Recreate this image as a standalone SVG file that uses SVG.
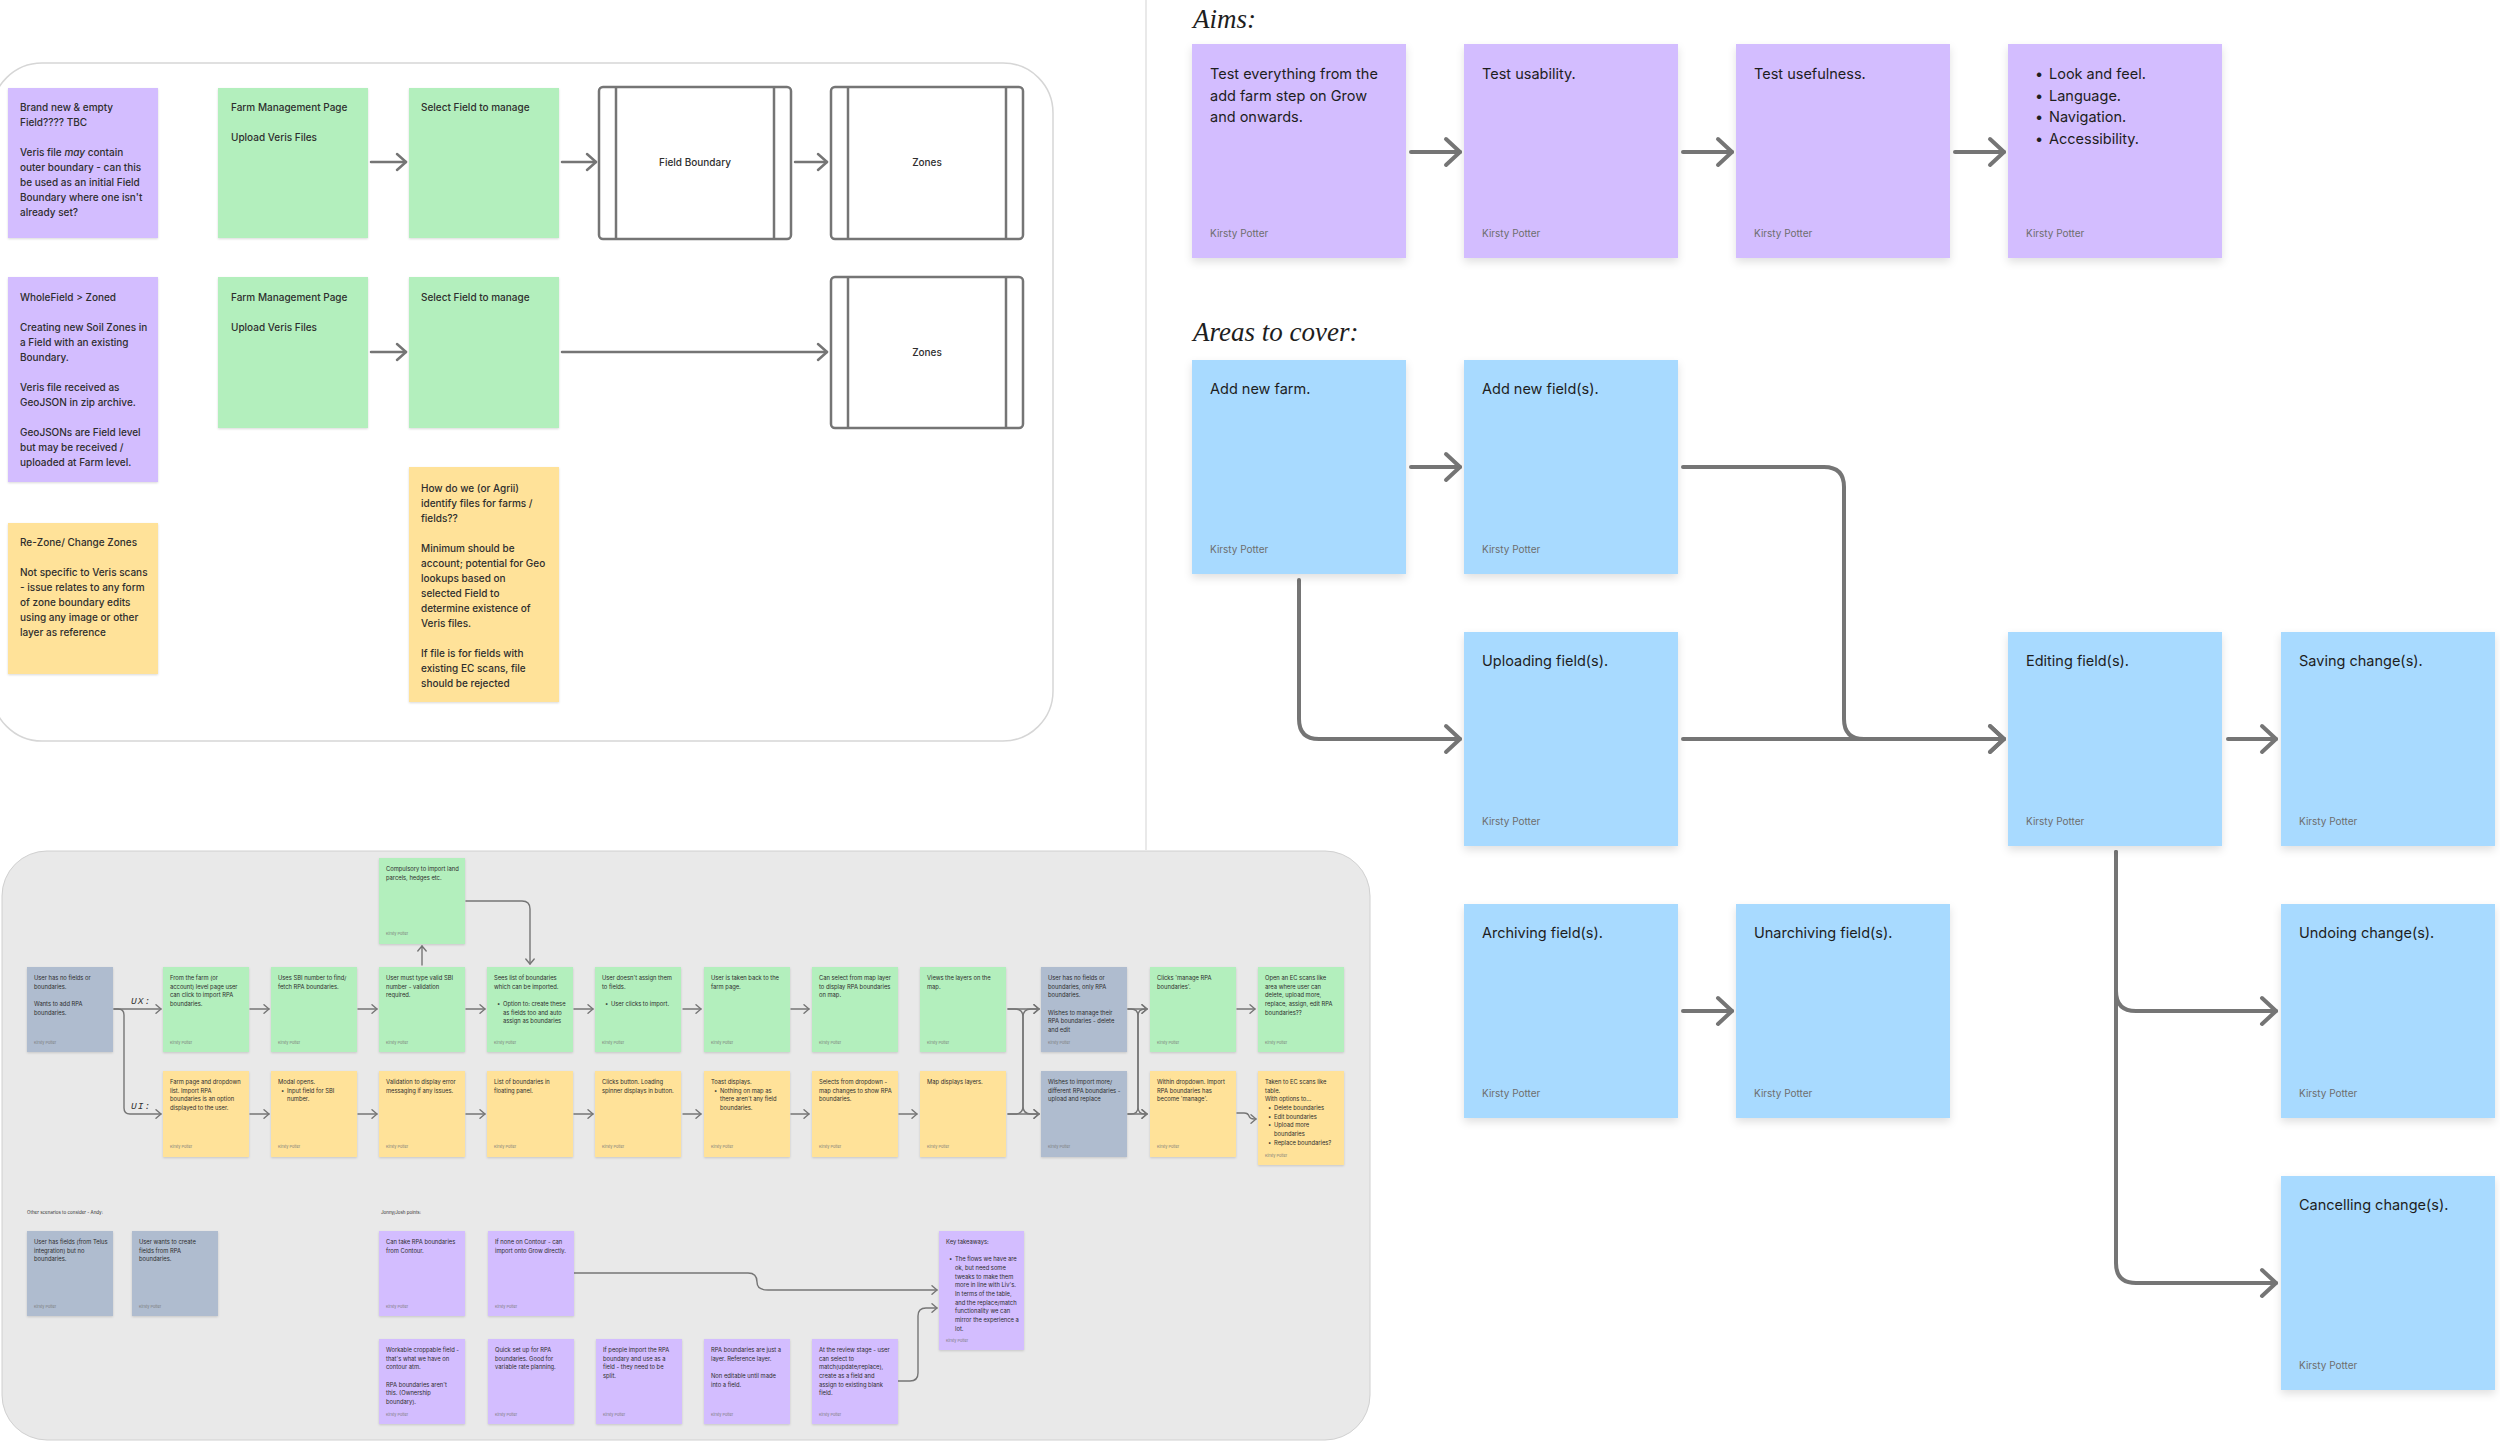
<svg xmlns="http://www.w3.org/2000/svg" width="2500" height="1442" viewBox="0 0 2500 1442">
<defs>
<style>
text{font-family:Inter,"Noto Sans","Liberation Sans",sans-serif}
.p{fill:#D3BDFF}.g{fill:#B3EFBD}.y{fill:#FFE299}.b{fill:#A8DAFF}.s{fill:#AFBCCF}
.tl{font-size:10px;font-weight:500;fill:#2e2e2e}
.bt{font-size:14.5px;fill:#1e1e1e}
.ba{font-size:10px;fill:#6e6e6e}
.st{font-size:5.8px;fill:#2e2e2e}
.sa{font-size:3.8px;fill:#7a7a7a}
.lab{font-size:4.5px;fill:#2e2e2e}
.hand{font-family:"Liberation Serif",serif;font-style:italic;font-size:27px;fill:#1e1e1e}
.mono{font-family:"Liberation Mono","DejaVu Sans Mono",monospace;font-style:italic;font-size:9.5px;fill:#333;letter-spacing:1px}
.cn{fill:none;stroke:#757575;stroke-linecap:round;stroke-linejoin:round}
.cL{stroke-width:4;marker-end:url(#aL)}
.cM{stroke-width:2.5;marker-end:url(#aM)}
.cS{stroke-width:1.4;marker-end:url(#aS)}
.frame{fill:#fff;stroke:#757575;stroke-width:2.5}
.fl{stroke:#757575;stroke-width:2.5}
.bs{filter:url(#shB)}.ss{filter:url(#shS)}
</style>
<filter id="shB" x="-10%" y="-10%" width="120%" height="130%"><feDropShadow dx="0" dy="4" stdDeviation="4" flood-color="#000" flood-opacity="0.12"/></filter>
<filter id="shS" x="-10%" y="-10%" width="120%" height="130%"><feDropShadow dx="0" dy="1" stdDeviation="1" flood-color="#000" flood-opacity="0.15"/></filter>
<marker id="aL" viewBox="0 0 20 30" refX="16" refY="15" markerWidth="20" markerHeight="30" markerUnits="userSpaceOnUse" orient="auto" overflow="visible"><path d="M2,2 L16,15 L2,28" fill="none" stroke="#757575" stroke-width="4" stroke-linecap="round" stroke-linejoin="round"/></marker>
<marker id="aM" viewBox="0 0 14 20" refX="11" refY="10" markerWidth="14" markerHeight="20" markerUnits="userSpaceOnUse" orient="auto" overflow="visible"><path d="M2,2 L11,10 L2,18" fill="none" stroke="#757575" stroke-width="2.5" stroke-linecap="round" stroke-linejoin="round"/></marker>
<marker id="aS" viewBox="0 0 8 10" refX="6" refY="5" markerWidth="8" markerHeight="10" markerUnits="userSpaceOnUse" orient="auto" overflow="visible"><path d="M1,0.8 L6,5 L1,9.2" fill="none" stroke="#757575" stroke-width="1.4" stroke-linecap="round" stroke-linejoin="round"/></marker>
</defs>
<rect width="2500" height="1442" fill="#fff"/>
<line x1="1146" y1="0" x2="1146" y2="850" stroke="#e2e2e2" stroke-width="1.5"/>

<!-- panels -->
<rect id="panel-top" x="-8" y="63" width="1061" height="678" rx="50" fill="#fff" stroke="#d6d6d6" stroke-width="1.5"/>
<rect id="panel-bottom" x="2" y="851" width="1368" height="589" rx="45" fill="#e9e9e9" stroke="#d0d0d0" stroke-width="1"/>

<!-- headings -->
<text class="hand" x="1193" y="28">Aims:</text>
<text class="hand" x="1193" y="341">Areas to cover:</text>

<g id="connectors">
<!-- aims -->
<path class="cn cL" d="M1411,152 H1460"/>
<path class="cn cL" d="M1683,152 H1732"/>
<path class="cn cL" d="M1955,152 H2004"/>
<!-- areas -->
<path class="cn cL" d="M1411,467 H1460"/>
<path class="cn cL" d="M1299,580 V719 Q1299,739 1319,739 H1460"/>
<path class="cn cL" d="M1683,467 H1824 Q1844,467 1844,487 V719 Q1844,739 1864,739 H2004"/>
<path class="cn cL" d="M1683,739 H2004"/>
<path class="cn cL" d="M2228,739 H2276"/>
<path class="cn cL" d="M2116,852 V991 Q2116,1011 2136,1011 H2276"/>
<path class="cn cL" d="M2116,852 V1263 Q2116,1283 2136,1283 H2276"/>
<path class="cn cL" d="M1683,1011 H1732"/>
<!-- top-left -->
<path class="cn cM" d="M371,162 H406"/>
<path class="cn cM" d="M562,162 H596"/>
<path class="cn cM" d="M795,162 H827"/>
<path class="cn cM" d="M371,352 H406"/>
<path class="cn cM" d="M562,352 H827"/>
<!-- bottom flow -->
<path class="cn cS" d="M114,1009 H161"/>
<path class="cn cS" d="M114,1009 H118 Q124,1009 124,1015 V1108 Q124,1114 130,1114 H161"/>
<path class="cn cS" d="M250,1009 H269"/>
<path class="cn cS" d="M358,1009 H377"/>
<path class="cn cS" d="M466,1009 H485"/>
<path class="cn cS" d="M574,1009 H593"/>
<path class="cn cS" d="M683,1009 H701"/>
<path class="cn cS" d="M791,1009 H809"/>
<path class="cn cS" d="M250,1114 H269"/>
<path class="cn cS" d="M358,1114 H377"/>
<path class="cn cS" d="M466,1114 H485"/>
<path class="cn cS" d="M574,1114 H593"/>
<path class="cn cS" d="M683,1114 H701"/>
<path class="cn cS" d="M791,1114 H809"/>
<path class="cn cS" d="M899,1114 H917"/>
<path class="cn cS" d="M1008,1009 H1039"/>
<path class="cn cS" d="M1008,1114 H1039"/>
<path class="cn cS" d="M1008,1009 H1015 Q1023,1009 1023,1017 V1106 Q1023,1114 1031,1114 H1039"/>
<path class="cn cS" d="M1008,1114 H1015 Q1023,1114 1023,1106 V1017 Q1023,1009 1031,1009 H1039"/>
<path class="cn cS" d="M1128,1009 H1147"/>
<path class="cn cS" d="M1128,1114 H1147"/>
<path class="cn cS" d="M1128,1009 H1131 Q1138,1009 1138,1016 V1107 Q1138,1114 1145,1114 H1147"/>
<path class="cn cS" d="M1128,1114 H1131 Q1138,1114 1138,1107 V1016 Q1138,1009 1145,1009 H1147"/>
<path class="cn cS" d="M1237,1009 H1255"/>
<path class="cn cS" d="M1237,1113 H1244 Q1248,1113 1249,1116 Q1250,1119 1254,1119 H1256"/>
<path class="cn cS" d="M422,965 V946"/>
<path class="cn cS" d="M466,901 H522 Q530,901 530,909 V964"/>
<path class="cn cS" d="M574,1273 H748 C756,1273 757,1278 757,1282 C757,1287 760,1290 768,1290 H937"/>
<path class="cn cS" d="M898,1381 H910 Q918,1381 918,1373 V1316 Q918,1308 926,1308 H937"/>
</g>
<text class="mono" x="131" y="1004">UX:</text>
<text class="mono" x="131" y="1109">UI:</text>

<!-- Aims -->
<g id="aim1"><rect class="p bs" x="1192" y="44" width="214" height="214"/><text class="bt" x="1210" y="79">Test everything from the<tspan x="1210" dy="21.6">add farm step on Grow</tspan><tspan x="1210" dy="21.6">and onwards.</tspan></text><text class="ba" x="1210" y="237">Kirsty Potter</text></g>
<g id="aim2"><rect class="p bs" x="1464" y="44" width="214" height="214"/><text class="bt" x="1482" y="79">Test usability.</text><text class="ba" x="1482" y="237">Kirsty Potter</text></g>
<g id="aim3"><rect class="p bs" x="1736" y="44" width="214" height="214"/><text class="bt" x="1754" y="79">Test usefulness.</text><text class="ba" x="1754" y="237">Kirsty Potter</text></g>
<g id="aim4"><rect class="p bs" x="2008" y="44" width="214" height="214"/><text class="bt" x="2035" y="79">•<tspan x="2049">Look and feel.</tspan><tspan x="2035" dy="21.6">•</tspan><tspan x="2049">Language.</tspan><tspan x="2035" dy="21.6">•</tspan><tspan x="2049">Navigation.</tspan><tspan x="2035" dy="21.6">•</tspan><tspan x="2049">Accessibility.</tspan></text><text class="ba" x="2026" y="237">Kirsty Potter</text></g>

<!-- Areas -->
<g id="area-farm"><rect class="b bs" x="1192" y="360" width="214" height="214"/><text class="bt" x="1210" y="394">Add new farm.</text><text class="ba" x="1210" y="553">Kirsty Potter</text></g>
<g id="area-addfield"><rect class="b bs" x="1464" y="360" width="214" height="214"/><text class="bt" x="1482" y="394">Add new field(s).</text><text class="ba" x="1482" y="553">Kirsty Potter</text></g>
<g id="area-upload"><rect class="b bs" x="1464" y="632" width="214" height="214"/><text class="bt" x="1482" y="666">Uploading field(s).</text><text class="ba" x="1482" y="825">Kirsty Potter</text></g>
<g id="area-edit"><rect class="b bs" x="2008" y="632" width="214" height="214"/><text class="bt" x="2026" y="666">Editing field(s).</text><text class="ba" x="2026" y="825">Kirsty Potter</text></g>
<g id="area-save"><rect class="b bs" x="2281" y="632" width="214" height="214"/><text class="bt" x="2299" y="666">Saving change(s).</text><text class="ba" x="2299" y="825">Kirsty Potter</text></g>
<g id="area-archive"><rect class="b bs" x="1464" y="904" width="214" height="214"/><text class="bt" x="1482" y="938">Archiving field(s).</text><text class="ba" x="1482" y="1097">Kirsty Potter</text></g>
<g id="area-unarchive"><rect class="b bs" x="1736" y="904" width="214" height="214"/><text class="bt" x="1754" y="938">Unarchiving field(s).</text><text class="ba" x="1754" y="1097">Kirsty Potter</text></g>
<g id="area-undo"><rect class="b bs" x="2281" y="904" width="214" height="214"/><text class="bt" x="2299" y="938">Undoing change(s).</text><text class="ba" x="2299" y="1097">Kirsty Potter</text></g>
<g id="area-cancel"><rect class="b bs" x="2281" y="1176" width="214" height="214"/><text class="bt" x="2299" y="1210">Cancelling change(s).</text><text class="ba" x="2299" y="1369">Kirsty Potter</text></g>

<!-- Top-left -->
<g id="tl-new"><rect class="p ss" x="8" y="88" width="150" height="150"/><text class="tl" x="20" y="111">Brand new &amp; empty<tspan x="20" dy="15">Field???? TBC</tspan><tspan x="20" dy="30">Veris file </tspan><tspan font-style="italic">may</tspan><tspan> contain</tspan><tspan x="20" dy="15">outer boundary - can this</tspan><tspan x="20" dy="15">be used as an initial Field</tspan><tspan x="20" dy="15">Boundary where one isn't</tspan><tspan x="20" dy="15">already set?</tspan></text></g>
<g id="tl-whole"><rect class="p ss" x="8" y="277" width="150" height="205"/><text class="tl" x="20" y="301">WholeField &gt; Zoned<tspan x="20" dy="30">Creating new Soil Zones in</tspan><tspan x="20" dy="15">a Field with an existing</tspan><tspan x="20" dy="15">Boundary.</tspan><tspan x="20" dy="30">Veris file received as</tspan><tspan x="20" dy="15">GeoJSON in zip archive.</tspan><tspan x="20" dy="30">GeoJSONs are Field level</tspan><tspan x="20" dy="15">but may be received /</tspan><tspan x="20" dy="15">uploaded at Farm level.</tspan></text></g>
<g id="tl-rezone"><rect class="y ss" x="8" y="523" width="150" height="151"/><text class="tl" x="20" y="546">Re-Zone/ Change Zones<tspan x="20" dy="30">Not specific to Veris scans</tspan><tspan x="20" dy="15">- issue relates to any form</tspan><tspan x="20" dy="15">of zone boundary edits</tspan><tspan x="20" dy="15">using any image or other</tspan><tspan x="20" dy="15">layer as reference</tspan></text></g>
<g id="tl-farm1"><rect class="g ss" x="218" y="88" width="150" height="150"/><text class="tl" x="231" y="111">Farm Management Page<tspan x="231" dy="30">Upload Veris Files</tspan></text></g>
<g id="tl-select1"><rect class="g ss" x="409" y="88" width="150" height="150"/><text class="tl" x="421" y="111">Select Field to manage</text></g>
<g id="tl-farm2"><rect class="g ss" x="218" y="277" width="150" height="151"/><text class="tl" x="231" y="301">Farm Management Page<tspan x="231" dy="30">Upload Veris Files</tspan></text></g>
<g id="tl-select2"><rect class="g ss" x="409" y="277" width="150" height="151"/><text class="tl" x="421" y="301">Select Field to manage</text></g>
<g id="tl-how"><rect class="y ss" x="409" y="467" width="150" height="235"/><text class="tl" x="421" y="492">How do we (or Agrii)<tspan x="421" dy="15">identify files for farms /</tspan><tspan x="421" dy="15">fields??</tspan><tspan x="421" dy="30">Minimum should be</tspan><tspan x="421" dy="15">account; potential for Geo</tspan><tspan x="421" dy="15">lookups based on</tspan><tspan x="421" dy="15">selected Field to</tspan><tspan x="421" dy="15">determine existence of</tspan><tspan x="421" dy="15">Veris files.</tspan><tspan x="421" dy="30">If file is for fields with</tspan><tspan x="421" dy="15">existing EC scans, file</tspan><tspan x="421" dy="15">should be rejected</tspan></text></g>
<g id="tl-boundary"><rect class="frame" x="599" y="87" width="192" height="152" rx="4"/><line class="fl" x1="616" y1="87" x2="616" y2="239"/><line class="fl" x1="774" y1="87" x2="774" y2="239"/><text class="tl" x="695" y="166" text-anchor="middle">Field Boundary</text></g>
<g id="tl-zones1"><rect class="frame" x="831" y="87" width="192" height="152" rx="4"/><line class="fl" x1="848" y1="87" x2="848" y2="239"/><line class="fl" x1="1006" y1="87" x2="1006" y2="239"/><text class="tl" x="927" y="166" text-anchor="middle">Zones</text></g>
<g id="tl-zones2"><rect class="frame" x="831" y="277" width="192" height="151" rx="4"/><line class="fl" x1="848" y1="277" x2="848" y2="428"/><line class="fl" x1="1006" y1="277" x2="1006" y2="428"/><text class="tl" x="927" y="356" text-anchor="middle">Zones</text></g>

<!-- Bottom flow row 1 -->
<g id="b-start"><rect class="s ss" x="27" y="967" width="86" height="85"/><text class="st" x="34" y="980">User has no fields or<tspan x="34" dy="8.67">boundaries.</tspan><tspan x="34" dy="17.33">Wants to add RPA</tspan><tspan x="34" dy="8.67">boundaries.</tspan></text><text class="sa" x="34" y="1044">Kirsty Potter</text></g>
<g id="b-g1"><rect class="g ss" x="163" y="967" width="86" height="85"/><text class="st" x="170" y="980">From the farm (or<tspan x="170" dy="8.67">account) level page user</tspan><tspan x="170" dy="8.67">can click to import RPA</tspan><tspan x="170" dy="8.67">boundaries.</tspan></text><text class="sa" x="170" y="1044">Kirsty Potter</text></g>
<g id="b-g2"><rect class="g ss" x="271" y="967" width="86" height="85"/><text class="st" x="278" y="980"> Uses SBI number to find/<tspan x="278" dy="8.67">fetch RPA boundaries.</tspan></text><text class="sa" x="278" y="1044">Kirsty Potter</text></g>
<g id="b-g3"><rect class="g ss" x="379" y="967" width="86" height="85"/><text class="st" x="386" y="980">User must type valid SBI<tspan x="386" dy="8.67">number - validation</tspan><tspan x="386" dy="8.67">required.</tspan></text><text class="sa" x="386" y="1044">Kirsty Potter</text></g>
<g id="b-g4"><rect class="g ss" x="487" y="967" width="86" height="85"/><text class="st" x="494" y="980">Sees list of boundaries<tspan x="494" dy="8.67">which can be imported.</tspan><tspan x="497" dy="17.33">•</tspan><tspan x="503">Option to: create these</tspan><tspan x="503" dy="8.67">as fields too and auto</tspan><tspan x="503" dy="8.67">assign as boundaries</tspan></text><text class="sa" x="494" y="1044">Kirsty Potter</text></g>
<g id="b-g5"><rect class="g ss" x="595" y="967" width="86" height="85"/><text class="st" x="602" y="980">User doesn't assign them<tspan x="602" dy="8.67">to fields.</tspan><tspan x="605" dy="17.33">•</tspan><tspan x="611">User clicks to import.</tspan></text><text class="sa" x="602" y="1044">Kirsty Potter</text></g>
<g id="b-g6"><rect class="g ss" x="704" y="967" width="86" height="85"/><text class="st" x="711" y="980">User is taken back to the<tspan x="711" dy="8.67">farm page.</tspan></text><text class="sa" x="711" y="1044">Kirsty Potter</text></g>
<g id="b-g7"><rect class="g ss" x="812" y="967" width="86" height="85"/><text class="st" x="819" y="980">Can select from map layer<tspan x="819" dy="8.67">to display RPA boundaries</tspan><tspan x="819" dy="8.67">on map.</tspan></text><text class="sa" x="819" y="1044">Kirsty Potter</text></g>
<g id="b-g8"><rect class="g ss" x="920" y="967" width="86" height="85"/><text class="st" x="927" y="980">Views the layers on the<tspan x="927" dy="8.67">map.</tspan></text><text class="sa" x="927" y="1044">Kirsty Potter</text></g>
<g id="b-s2"><rect class="s ss" x="1041" y="967" width="86" height="85"/><text class="st" x="1048" y="980">User has no fields or<tspan x="1048" dy="8.67">boundaries, only RPA</tspan><tspan x="1048" dy="8.67">boundaries.</tspan><tspan x="1048" dy="17.33">Wishes to manage their</tspan><tspan x="1048" dy="8.67">RPA boundaries - delete</tspan><tspan x="1048" dy="8.67">and edit</tspan></text><text class="sa" x="1048" y="1044">Kirsty Potter</text></g>
<g id="b-g9"><rect class="g ss" x="1150" y="967" width="86" height="85"/><text class="st" x="1157" y="980">Clicks 'manage RPA<tspan x="1157" dy="8.67">boundaries'.</tspan></text><text class="sa" x="1157" y="1044">Kirsty Potter</text></g>
<g id="b-g10"><rect class="g ss" x="1258" y="967" width="86" height="85"/><text class="st" x="1265" y="980">Open an EC scans like<tspan x="1265" dy="8.67">area where user can</tspan><tspan x="1265" dy="8.67">delete, upload more,</tspan><tspan x="1265" dy="8.67">replace, assign, edit RPA</tspan><tspan x="1265" dy="8.67">boundaries??</tspan></text><text class="sa" x="1265" y="1044">Kirsty Potter</text></g>
<g id="b-top"><rect class="g ss" x="379" y="858" width="86" height="86"/><text class="st" x="386" y="871">Compulsory to import land<tspan x="386" dy="8.67">parcels, hedges etc.</tspan></text><text class="sa" x="386" y="935">Kirsty Potter</text></g>

<!-- Bottom flow row 2 -->
<g id="b-y1"><rect class="y ss" x="163" y="1071" width="86" height="86"/><text class="st" x="170" y="1084">Farm page and dropdown<tspan x="170" dy="8.67">list. Import RPA</tspan><tspan x="170" dy="8.67">boundaries is an option</tspan><tspan x="170" dy="8.67">displayed to the user.</tspan></text><text class="sa" x="170" y="1148">Kirsty Potter</text></g>
<g id="b-y2"><rect class="y ss" x="271" y="1071" width="86" height="86"/><text class="st" x="278" y="1084">Modal opens.<tspan x="281" dy="8.67">•</tspan><tspan x="287">Input field for SBI</tspan><tspan x="287" dy="8.67">number.</tspan></text><text class="sa" x="278" y="1148">Kirsty Potter</text></g>
<g id="b-y3"><rect class="y ss" x="379" y="1071" width="86" height="86"/><text class="st" x="386" y="1084">Validation to display error<tspan x="386" dy="8.67">messaging if any issues.</tspan></text><text class="sa" x="386" y="1148">Kirsty Potter</text></g>
<g id="b-y4"><rect class="y ss" x="487" y="1071" width="86" height="86"/><text class="st" x="494" y="1084">List of boundaries in<tspan x="494" dy="8.67">floating panel.</tspan></text><text class="sa" x="494" y="1148">Kirsty Potter</text></g>
<g id="b-y5"><rect class="y ss" x="595" y="1071" width="86" height="86"/><text class="st" x="602" y="1084">Clicks button. Loading<tspan x="602" dy="8.67">spinner displays in button.</tspan></text><text class="sa" x="602" y="1148">Kirsty Potter</text></g>
<g id="b-y6"><rect class="y ss" x="704" y="1071" width="86" height="86"/><text class="st" x="711" y="1084">Toast displays.<tspan x="714" dy="8.67">•</tspan><tspan x="720">Nothing on map as</tspan><tspan x="720" dy="8.67">there aren't any field</tspan><tspan x="720" dy="8.67">boundaries.</tspan></text><text class="sa" x="711" y="1148">Kirsty Potter</text></g>
<g id="b-y7"><rect class="y ss" x="812" y="1071" width="86" height="86"/><text class="st" x="819" y="1084">Selects from dropdown -<tspan x="819" dy="8.67">map changes to show RPA</tspan><tspan x="819" dy="8.67">boundaries.</tspan></text><text class="sa" x="819" y="1148">Kirsty Potter</text></g>
<g id="b-y8"><rect class="y ss" x="920" y="1071" width="86" height="86"/><text class="st" x="927" y="1084">Map displays layers.</text><text class="sa" x="927" y="1148">Kirsty Potter</text></g>
<g id="b-s3"><rect class="s ss" x="1041" y="1071" width="86" height="86"/><text class="st" x="1048" y="1084">Wishes to import more/<tspan x="1048" dy="8.67">different RPA boundaries -</tspan><tspan x="1048" dy="8.67">upload and replace</tspan></text><text class="sa" x="1048" y="1148">Kirsty Potter</text></g>
<g id="b-y9"><rect class="y ss" x="1150" y="1071" width="86" height="86"/><text class="st" x="1157" y="1084">Within dropdown. Import<tspan x="1157" dy="8.67">RPA boundaries has</tspan><tspan x="1157" dy="8.67">become 'manage'.</tspan></text><text class="sa" x="1157" y="1148">Kirsty Potter</text></g>
<g id="b-y10"><rect class="y ss" x="1258" y="1071" width="86" height="94"/><text class="st" x="1265" y="1084">Taken to EC scans like<tspan x="1265" dy="8.67">table.</tspan><tspan x="1265" dy="8.67">With options to...</tspan><tspan x="1268" dy="8.67">•</tspan><tspan x="1274">Delete boundaries</tspan><tspan x="1268" dy="8.67">•</tspan><tspan x="1274">Edit boundaries</tspan><tspan x="1268" dy="8.67">•</tspan><tspan x="1274">Upload more</tspan><tspan x="1274" dy="8.67">boundaries</tspan><tspan x="1268" dy="8.67">•</tspan><tspan x="1274">Replace boundaries?</tspan></text><text class="sa" x="1265" y="1157">Kirsty Potter</text></g>

<!-- Bottom other -->
<text class="lab" x="27" y="1214">Other scenarios to consider - Andy:</text>
<text class="lab" x="381" y="1214">Jonny/Josh points:</text>
<g id="o-1"><rect class="s ss" x="27" y="1231" width="86" height="85"/><text class="st" x="34" y="1244">User has fields (from Telus<tspan x="34" dy="8.67">integration) but no</tspan><tspan x="34" dy="8.67">boundaries.</tspan></text><text class="sa" x="34" y="1308">Kirsty Potter</text></g>
<g id="o-2"><rect class="s ss" x="132" y="1231" width="86" height="85"/><text class="st" x="139" y="1244">User wants to create<tspan x="139" dy="8.67">fields from RPA</tspan><tspan x="139" dy="8.67">boundaries.</tspan></text><text class="sa" x="139" y="1308">Kirsty Potter</text></g>
<g id="j-1"><rect class="p ss" x="379" y="1231" width="86" height="85"/><text class="st" x="386" y="1244">Can take RPA boundaries<tspan x="386" dy="8.67">from Contour.</tspan></text><text class="sa" x="386" y="1308">Kirsty Potter</text></g>
<g id="j-2"><rect class="p ss" x="488" y="1231" width="86" height="85"/><text class="st" x="495" y="1244">If none on Contour - can<tspan x="495" dy="8.67">import onto Grow directly.</tspan></text><text class="sa" x="495" y="1308">Kirsty Potter</text></g>
<g id="j-3"><rect class="p ss" x="379" y="1339" width="86" height="85"/><text class="st" x="386" y="1352">Workable croppable field -<tspan x="386" dy="8.67">that's what we have on</tspan><tspan x="386" dy="8.67">contour atm.</tspan><tspan x="386" dy="17.33">RPA boundaries aren't</tspan><tspan x="386" dy="8.67">this. (Ownership</tspan><tspan x="386" dy="8.67">boundary).</tspan></text><text class="sa" x="386" y="1416">Kirsty Potter</text></g>
<g id="j-4"><rect class="p ss" x="488" y="1339" width="86" height="85"/><text class="st" x="495" y="1352">Quick set up for RPA<tspan x="495" dy="8.67">boundaries. Good for</tspan><tspan x="495" dy="8.67">variable rate planning.</tspan></text><text class="sa" x="495" y="1416">Kirsty Potter</text></g>
<g id="j-5"><rect class="p ss" x="596" y="1339" width="86" height="85"/><text class="st" x="603" y="1352">If people import the RPA<tspan x="603" dy="8.67">boundary and use as a</tspan><tspan x="603" dy="8.67">field - they need to be</tspan><tspan x="603" dy="8.67">split.</tspan></text><text class="sa" x="603" y="1416">Kirsty Potter</text></g>
<g id="j-6"><rect class="p ss" x="704" y="1339" width="86" height="85"/><text class="st" x="711" y="1352">RPA boundaries are just a<tspan x="711" dy="8.67">layer. Reference layer.</tspan><tspan x="711" dy="17.33">Non editable until made</tspan><tspan x="711" dy="8.67">into a field.</tspan></text><text class="sa" x="711" y="1416">Kirsty Potter</text></g>
<g id="j-7"><rect class="p ss" x="812" y="1339" width="86" height="85"/><text class="st" x="819" y="1352">At the review stage - user<tspan x="819" dy="8.67">can select to</tspan><tspan x="819" dy="8.67">match(update/replace),</tspan><tspan x="819" dy="8.67">create as a field and</tspan><tspan x="819" dy="8.67">assign to existing blank</tspan><tspan x="819" dy="8.67">field.</tspan></text><text class="sa" x="819" y="1416">Kirsty Potter</text></g>
<g id="j-key"><rect class="p ss" x="939" y="1231" width="85" height="119"/><text class="st" x="946" y="1244">Key takeaways:<tspan x="949" dy="17.33">•</tspan><tspan x="955">The flows we have are</tspan><tspan x="955" dy="8.67">ok, but need some</tspan><tspan x="955" dy="8.67">tweaks to make them</tspan><tspan x="955" dy="8.67">more in line with Liv's.</tspan><tspan x="955" dy="8.67">In terms of the table,</tspan><tspan x="955" dy="8.67">and the replace/match</tspan><tspan x="955" dy="8.67">functionality we can</tspan><tspan x="955" dy="8.67">mirror the experience a</tspan><tspan x="955" dy="8.67">lot.</tspan></text><text class="sa" x="946" y="1342">Kirsty Potter</text></g>
</svg>
